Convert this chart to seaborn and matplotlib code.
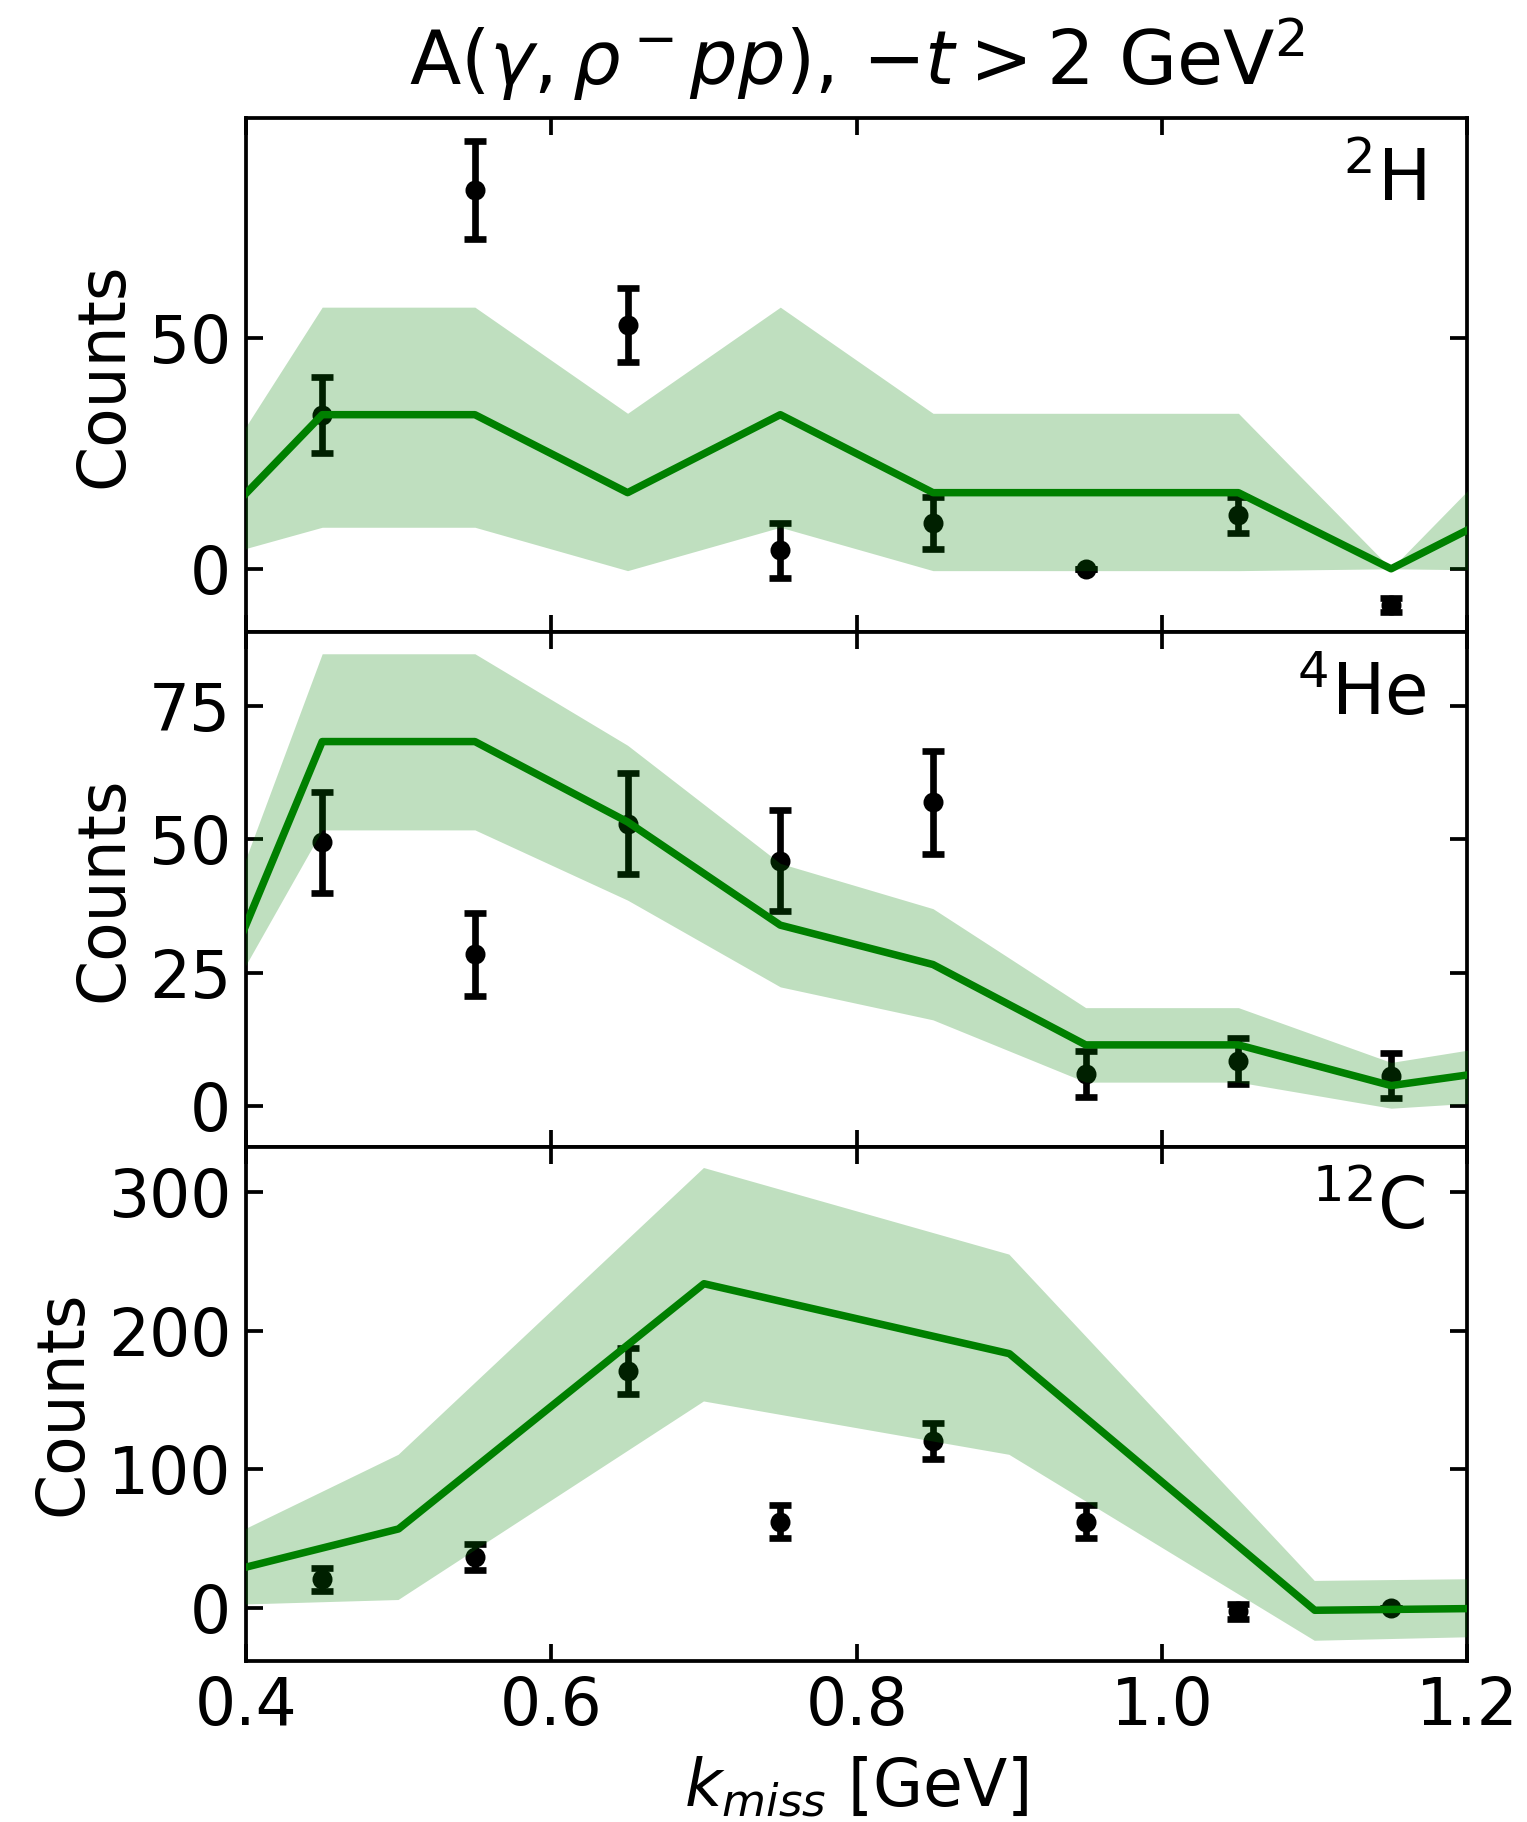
import numpy as np
import matplotlib
matplotlib.use("Agg")
import matplotlib.pyplot as plt
import seaborn as sns

# bin centres of the measured points
k_data = [0.45, 0.55, 0.65, 0.75, 0.85, 0.95, 1.05, 1.15]

# 2H
h2_counts = [33.4, 82.1, 52.8, 4.0, 9.9, 0.0, 11.7, -7.8]
h2_err = [8.2, 10.7, 8.0, 6.0, 5.7, 0.0, 3.9, 1.5]
h2_k_sim = [0.35, 0.45, 0.55, 0.65, 0.75, 0.85, 0.95, 1.05, 1.15, 1.25]
h2_sim = [-0.8, 33.4, 33.4, 16.5, 33.4, 16.5, 16.5, 16.5, 0.0, 16.8]
h2_sim_hi = [4.9, 56.7, 56.7, 33.7, 56.7, 33.7, 33.7, 33.7, 0.0, 33.8]
h2_sim_lo = [-0.2, 9.0, 9.0, -0.4, 9.0, -0.4, -0.4, -0.4, 0.0, -0.4]

# 4He
he4_counts = [49.5, 28.4, 53.0, 46.0, 57.0, 5.9, 8.4, 5.6]
he4_err = [9.5, 7.8, 9.4, 9.5, 9.7, 4.3, 4.3, 4.2]
he4_k_sim = [0.35, 0.45, 0.55, 0.65, 0.75, 0.85, 0.95, 1.05, 1.15, 1.25]
he4_sim = [-0.6, 68.4, 68.4, 53.3, 33.9, 26.5, 11.4, 11.4, 3.75, 7.75]
he4_sim_hi = [7.9, 84.9, 84.9, 67.7, 45.5, 37.0, 18.4, 18.4, 8.1, 12.7]
he4_sim_lo = [1.0, 51.8, 51.8, 38.6, 22.3, 16.1, 4.4, 4.4, -0.5, 1.3]

# 12C
c12_counts = [20.7, 36.9, 171.0, 62.3, 120.4, 62.3, -2.5, 0.0]
c12_err = [8.2, 9.5, 16.6, 11.8, 12.8, 11.8, 5.6, 0.0]
c12_k_sim = [0.3, 0.5, 0.7, 0.9, 1.1, 1.3]
c12_sim = [1.8, 57.0, 234.0, 183.5, -1.7, 0.7]
c12_sim_hi = [3.5, 110.5, 317.5, 255.0, 19.5, 21.9]
c12_sim_lo = [-0.7, 5.7, 149.0, 110.5, -23.7, -18.7]

panels = [
    (r"$^{2}$H", h2_counts, h2_err, h2_k_sim, h2_sim, h2_sim_lo, h2_sim_hi, (-13.8, 97.6), [0, 50]),
    (r"$^{4}$He", he4_counts, he4_err, he4_k_sim, he4_sim, he4_sim_lo, he4_sim_hi, (-7.7, 88.9), [0, 25, 50, 75]),
    (r"$^{12}$C", c12_counts, c12_err, c12_k_sim, c12_sim, c12_sim_lo, c12_sim_hi, (-38, 333), [0, 100, 200, 300]),
]

sns.set_theme(style="ticks", rc={"text.color": "black", "axes.labelcolor": "black",
                                 "xtick.color": "black", "ytick.color": "black",
                                 "axes.edgecolor": "black"})
plt.rcParams["font.family"] = ["DejaVu Sans"]
plt.rcParams["mathtext.fontset"] = "dejavusans"

fig, axes = plt.subplots(3, 1, figsize=(1527 / 300, 1822 / 300), dpi=300, sharex=True)
fig.subplots_adjust(left=0.161, right=0.961, top=0.935, bottom=0.0886, hspace=0)

for ax, (lab, cts, err, ks, sim, lo, hi, ylim, yt) in zip(axes, panels):
    ax.errorbar(k_data, cts, yerr=err, fmt="o", color="black", ms=3.8,
                elinewidth=1.6, capsize=2.6, capthick=1.6, zorder=2)
    sns.lineplot(x=ks, y=sim, color="green", lw=1.8, ax=ax, zorder=4)
    ax.fill_between(ks, lo, hi, color="green", alpha=0.25, lw=0, zorder=3)
    ax.set_xlim(0.4, 1.2)
    ax.set_ylim(*ylim)
    ax.set_yticks(yt)
    ax.set_ylabel("Counts", fontsize=15.5, labelpad=3)
    ax.text(0.966, 0.945, lab, transform=ax.transAxes, ha="right", va="top", fontsize=17)
    ax.tick_params(direction="in", top=True, right=True, labelsize=15.5,
                   length=4, width=0.9)
    for s in ax.spines.values():
        s.set_linewidth(0.9)

axes[-1].set_xticks([0.4, 0.6, 0.8, 1.0, 1.2])
axes[-1].set_xlabel(r"$k_{miss}$ [GeV]", fontsize=15.5)
axes[0].set_title(r"A($\gamma,\rho^-pp$), $-t>2$ GeV$^2$", fontsize=18, pad=8)

plt.savefig("out.png", dpi=300)
